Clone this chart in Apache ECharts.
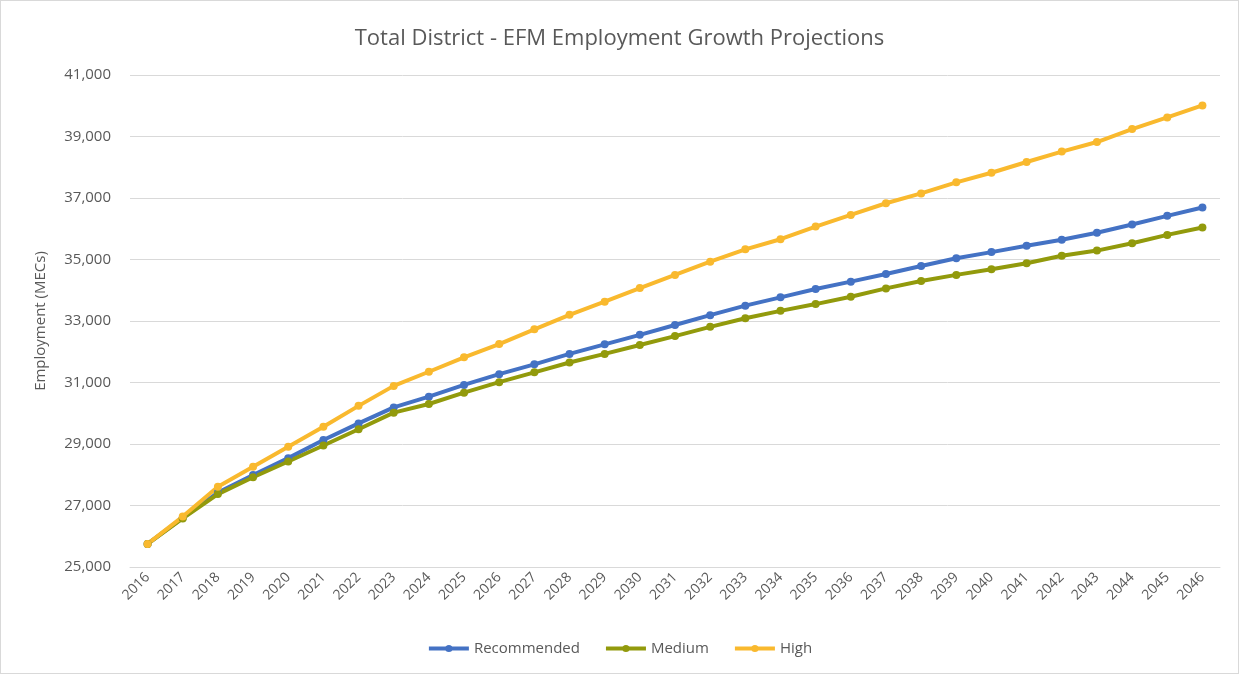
<!DOCTYPE html>
<html><head><meta charset="utf-8">
<script src="https://cdn.jsdelivr.net/npm/echarts@6/dist/echarts.min.js"></script>
<style>
html,body{margin:0;padding:0;background:#fff;}
#c{position:absolute;left:0;top:0;width:1237px;height:672px;border:1px solid #d9d9d9;}
</style></head><body>
<div id="c"></div>
<script>
const years = ['2016','2017','2018','2019','2020','2021','2022','2023','2024','2025','2026','2027','2028','2029','2030','2031','2032','2033','2034','2035','2036','2037','2038','2039','2040','2041','2042','2043','2044','2045','2046'];
const recommended = [25750,26600,27420,27990,28540,29130,29670,30190,30540,30920,31270,31590,31930,32240,32550,32870,33190,33500,33770,34040,34280,34530,34790,35040,35240,35450,35640,35870,36140,36420,36690];
const medium = [25750,26580,27370,27920,28430,28950,29480,30020,30300,30670,31010,31330,31650,31930,32220,32510,32810,33090,33330,33550,33790,34060,34300,34500,34680,34880,35120,35290,35530,35800,36040];
const high = [25750,26640,27610,28260,28910,29560,30240,30890,31350,31820,32250,32730,33200,33630,34070,34500,34930,35330,35660,36070,36450,36830,37150,37510,37820,38170,38510,38820,39240,39620,40010];
const seriesNames = ['Recommended','Medium','High'];
const colors = ['#4472C4','#929A0C','#F9B92E'];
const yTicks = {min:25000, max:41000, interval:2000};

const chart = echarts.init(document.getElementById('c'));
const font = '"Open Sans", "Liberation Sans", sans-serif';
const mk = (name, data, color) => ({
  name, type:'line', data,
  symbol:'circle', symbolSize:8,
  lineStyle:{width:4,color}, itemStyle:{color},
  emphasis:{disabled:true}
});
chart.setOption({
  animation:false,
  textStyle:{fontFamily:font},
  title:{text:'Total District - EFM Employment Growth Projections', left:'center', top:22,
    textStyle:{fontFamily:font, fontSize:22, fontWeight:'normal', color:'#595959'}},
  legend:{bottom:12, left:'center', itemWidth:40, itemHeight:9, itemGap:24,
    lineStyle:{width:4},
    textStyle:{fontFamily:font, fontSize:15, color:'#595959'},
    data:seriesNames},
  grid:{left:129, right:18, top:74, bottom:106},
  xAxis:{type:'category', data:years, boundaryGap:true,
    axisLine:{lineStyle:{color:'#d9d9d9'}}, axisTick:{show:false},
    axisLabel:{rotate:45, color:'#595959', fontSize:14, margin:8, interval:0}},
  yAxis:{type:'value', min:yTicks.min, max:yTicks.max, interval:yTicks.interval,
    name:'Employment (MECs)', nameLocation:'middle', nameGap:82, nameRotate:90,
    nameTextStyle:{color:'#595959', fontSize:15},
    axisLine:{show:false}, axisTick:{show:false},
    splitLine:{lineStyle:{color:'#d9d9d9'}},
    axisLabel:{color:'#595959', fontSize:15, margin:19,
      formatter:v=>v.toLocaleString('en-US')}},
  series:[mk(seriesNames[0],recommended,colors[0]), mk(seriesNames[1],medium,colors[1]), mk(seriesNames[2],high,colors[2])]
});
</script></body></html>
